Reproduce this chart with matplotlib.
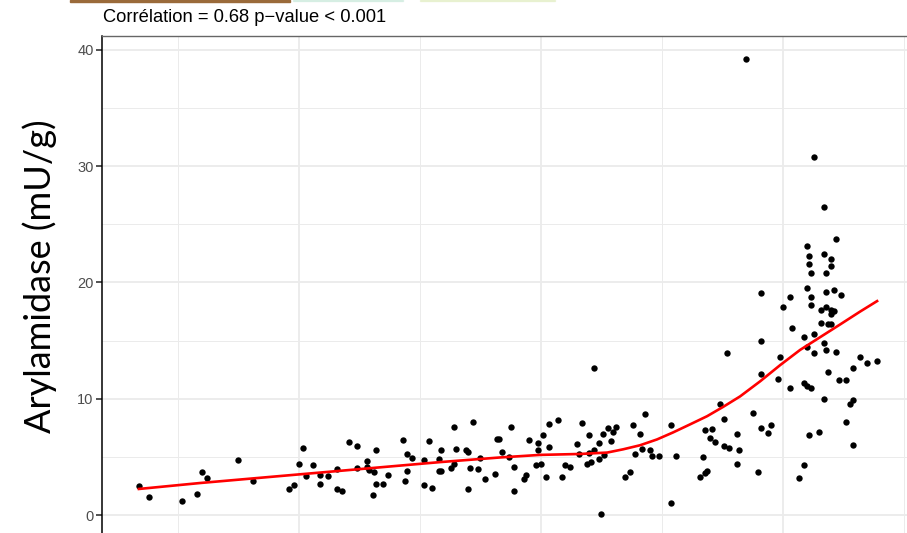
import matplotlib.pyplot as plt
from matplotlib.patches import Rectangle

# soil samples: x variable vs arylamidase activity (mU/g)
x_vals = [3.39, 3.79, 5.18, 5.79, 5.99, 6.19, 7.48, 8.09, 9.59, 9.79,
          9.99, 10.18, 10.29, 10.59, 10.88, 10.88, 11.19, 11.58, 11.58, 11.79,
          12.08, 12.38, 12.38, 12.80, 12.80, 12.90, 13.10, 13.18, 13.18, 13.07,
          13.48, 13.69, 14.29, 14.48, 14.68, 14.48, 14.39, 15.18, 15.18, 15.38,
          15.50, 15.79, 15.79, 15.88, 15.88, 16.28, 16.39, 16.39, 16.48, 16.89,
          16.98, 16.98, 17.08, 17.18, 17.38, 17.48, 17.67, 18.09, 18.17, 18.28,
          18.39, 18.68, 18.77, 18.88, 18.88, 19.29, 19.38, 19.49, 19.78, 19.89,
          19.89, 19.99, 20.08, 20.19, 20.32, 20.34, 20.69, 20.98, 21.19, 20.88,
          21.48, 21.58, 21.68, 21.89, 21.98, 21.98, 22.08, 22.18, 22.19, 22.38,
          22.38, 22.48, 22.57, 22.59, 22.78, 22.88, 22.99, 23.09, 23.48, 23.68,
          23.79, 23.88, 24.08, 24.19, 24.29, 24.49, 24.59, 24.88, 25.37, 25.58,
          25.37, 26.58, 26.68, 26.78, 26.78, 26.87, 26.98, 27.08, 27.18, 27.38,
          27.57, 27.57, 27.78, 27.69, 28.09, 28.09, 28.17, 28.48, 31.28, 31.68,
          32.18, 30.98, 31.07, 31.68, 31.98, 31.07, 31.98, 31.17, 31.78, 29.08,
          30.98, 30.29, 31.17, 31.78, 32.08, 32.38, 29.99, 31.17, 31.78, 31.58,
          31.98, 32.08, 31.98, 31.58, 31.87, 31.98, 30.38, 30.88, 31.28, 29.08,
          31.68, 30.98, 31.78, 32.19, 31.28, 29.88, 33.18, 33.88, 33.47, 32.88,
          31.87, 29.08, 29.78, 32.29, 32.59, 30.87, 30.98, 31.17, 30.29, 31.68,
          32.88, 32.78, 28.77, 32.59, 29.49, 29.08, 29.38, 31.48, 31.07, 32.88,
          30.88, 28.98, 30.67]
arylamidase = [2.47, 1.53, 1.18, 1.84, 3.73, 3.19, 4.77, 2.93, 2.27, 2.56,
               4.37, 5.78, 3.34, 4.28, 3.47, 2.67, 3.36, 3.97, 2.27, 2.07,
               6.32, 5.92, 4.08, 4.66, 4.14, 3.85, 3.73, 5.58, 2.67, 1.72,
               2.67, 3.47, 6.49, 5.23, 4.89, 3.77, 2.96, 4.77, 2.56, 6.38,
               2.35, 4.80, 3.79, 3.79, 5.58, 4.08, 7.59, 4.42, 5.69, 5.60,
               5.43, 2.27, 4.05, 7.96, 3.97, 4.89, 3.08, 3.56, 6.58, 6.58,
               5.46, 4.97, 7.61, 4.16, 2.07, 3.08, 3.47, 6.47, 4.34, 6.18,
               5.60, 4.37, 6.84, 3.28, 7.87, 5.89, 8.19, 4.34, 4.16, 3.28,
               6.09, 5.28, 7.91, 4.37, 6.90, 5.32, 4.57, 12.65, 5.58, 6.18,
               4.85, 0.09, 6.98, 5.15, 7.47, 6.38, 7.16, 7.53, 3.28, 3.68,
               7.70, 5.28, 6.98, 5.69, 8.68, 5.58, 5.06, 5.06, 7.78, 5.06,
               1.06, 3.30, 4.97, 7.27, 3.65, 3.79, 6.66, 7.41, 6.29, 9.51,
               8.22, 5.97, 5.78, 13.97, 6.98, 4.37, 5.60, 39.22, 30.78, 26.49,
               23.77, 23.10, 22.30, 22.41, 22.01, 21.61, 21.41, 20.78, 20.80, 19.11,
               19.51, 18.79, 18.79, 19.20, 19.37, 18.91, 17.91, 18.10, 17.91, 17.61,
               17.61, 17.53, 17.30, 16.53, 16.41, 16.41, 16.06, 15.28, 15.60, 15.00,
               14.80, 14.42, 14.22, 13.99, 13.91, 13.59, 13.62, 13.25, 13.08, 12.65,
               12.30, 12.09, 11.70, 11.58, 11.58, 11.38, 11.06, 10.89, 10.89, 9.94,
               9.91, 9.51, 8.79, 7.99, 7.70, 7.47, 7.07, 7.13, 6.92, 6.01,
               4.34, 3.73, 3.19]

# loess fit
smooth_x = [3.39, 5.91, 8.39, 10.87, 13.35, 15.83, 18.31, 19.96, 21.61, 22.73,
            23.39, 24.09, 24.79, 25.45, 26.16, 26.86, 27.52, 28.22, 29.05, 29.88,
            30.70, 31.53, 32.36, 33.18, 33.88]
smooth_y = [2.24, 2.75, 3.2, 3.65, 4.1, 4.55, 4.95, 5.17, 5.25, 5.37,
            5.65, 6.0, 6.5, 7.1, 7.8, 8.5, 9.3, 10.2, 11.5, 12.9,
            14.2, 15.3, 16.4, 17.5, 18.4]

y_ticks = [0, 10, 20, 30, 40]
title = "Corrélation = 0.68 p\u2212value < 0.001"

W, H = 907, 533
fig = plt.figure(figsize=(W / 100, H / 100), dpi=100)
ax = fig.add_axes([102 / W, -3.7 / H, 812 / W, 500.4 / H])

ax.scatter(x_vals, arylamidase, s=21, color='black', linewidths=0, zorder=3)
ax.plot(smooth_x, smooth_y, color='#FF0000', lw=1.9, zorder=4)

# ggplot-like 5% expansion
xr = max(x_vals) - min(x_vals)
yr = max(arylamidase) - min(arylamidase)
ax.set_xlim(min(x_vals) - 0.05 * xr, max(x_vals) + 0.05 * xr)
ax.set_ylim(min(arylamidase) - 0.05 * yr, max(arylamidase) + 0.05 * yr)

ax.set_xticks([10, 20, 30])
ax.set_xticks([5, 15, 25, 35], minor=True)
ax.set_yticks(y_ticks)
ax.set_yticks([5, 15, 25, 35], minor=True)
ax.grid(which='major', color='#EBEBEB', lw=1.3)
ax.grid(which='minor', color='#EBEBEB', lw=0.7)
ax.set_axisbelow(True)

ax.tick_params(axis='y', which='major', length=4, width=1.2, color='#333333',
               labelsize=10.5, labelcolor='#4D4D4D', pad=2)
ax.tick_params(which='minor', length=0)
ax.tick_params(axis='x', labelbottom=False)
for lab in ax.get_yticklabels():
    lab.set_family('Liberation Sans')

ax.spines['left'].set_color('black')
ax.spines['left'].set_linewidth(1.1)
ax.spines['top'].set_color('#666666')
ax.spines['top'].set_linewidth(1.0)
ax.spines['right'].set_visible(False)

fig.text(40 / W, 1 - 276 / H, 'Arylamidase (mU/g)', rotation=90,
         ha='center', va='center', fontsize=26, family='Lato')
fig.text(103 / W, 1 - 22 / H, title, ha='left', va='baseline',
         fontsize=13.2, family='Liberation Sans')

# strip left over from the header above
fig.patches.append(Rectangle((70 / W, 1 - 1.5 / H), 220 / W, 1.5 / H,
                             transform=fig.transFigure, color='#9A6A3A'))
fig.patches.append(Rectangle((293 / W, 1 - 1 / H), 110 / W, 1 / H,
                             transform=fig.transFigure, color='#A8DCC4', alpha=0.35))
fig.patches.append(Rectangle((420 / W, 1 - 1 / H), 135 / W, 1 / H,
                             transform=fig.transFigure, color='#CFE39A', alpha=0.35))

fig.savefig('out.png', dpi=100)
